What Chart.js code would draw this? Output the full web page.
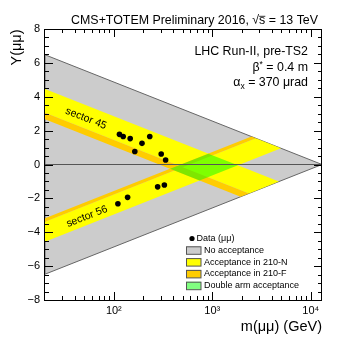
<!DOCTYPE html>
<html><head><meta charset="utf-8">
<script src="https://cdn.jsdelivr.net/npm/chart.js@4.4.1/dist/chart.umd.min.js"></script>
<style>html,body{margin:0;padding:0;background:#fff}#wrap{width:351px;height:346px}</style>
</head><body><div id="wrap"><canvas id="c" width="351" height="346"></canvas></div>
<script>
// ---- data ----
const sqrtS = 13000;                 // GeV
const massRange = [20, 13000];       // x axis range (GeV)
const yRange = [-8, 8];
// xi acceptance per sector: [210-F min, 210-N min, max]
const xiSector45 = [0.0222, 0.0329, 0.133];
const xiSector56 = [0.037, 0.0452, 0.147];
const dataMass = [114, 124.5, 146.6, 231.7, 193.2, 163.3, 302.7, 335.7, 278.6, 326, 138, 110];
const dataRapidity = [1.78, 1.65, 1.53, 1.65, 1.25, 0.77, 0.62, 0.27, -1.32, -1.21, -1.94, -2.32];
const yTicks = [-8, -6, -4, -2, 0, 2, 4, 6, 8];
const xMajorTicks = [100, 1000, 10000];
const xTickLabels = ['10\u00B2', '10\u00B3', '10\u2074'];
const legendLabels = ['Data (\u03BC\u03BC)', 'No acceptance', 'Acceptance in 210-N', 'Acceptance in 210-F', 'Double arm acceptance'];

// ---- colours ----
const GRAY = '#cccccc', YELLOW = '#ffff00', ORANGE = '#ffcc00', GREEN = 'rgba(0,255,0,0.5)';

// ---- geometry helpers (kinematics: xi1 = M/sqrtS e^Y, xi2 = M/sqrtS e^-Y) ----
function bandPoly(a, b, sign) {
  const m0 = massRange[0];
  const pts = [
    {x: m0, y: Math.log(b * sqrtS / m0)},
    {x: sqrtS * Math.sqrt(b), y: 0.5 * Math.log(b)},
    {x: sqrtS * Math.sqrt(a), y: 0.5 * Math.log(a)},
    {x: m0, y: Math.log(a * sqrtS / m0)}
  ].map(p => ({x: p.x, y: sign * p.y}));
  pts.push({...pts[0]});
  return pts;
}
function corner(x1, x2) { return {x: sqrtS * Math.sqrt(x1 * x2), y: 0.5 * Math.log(x1 / x2)}; }
const yEdge = Math.log(sqrtS / massRange[0]);
const triangle = [{x: massRange[0], y: yEdge}, {x: sqrtS, y: 0}, {x: massRange[0], y: -yEdge}, {x: massRange[0], y: yEdge}];
const doubleArm = [
  corner(xiSector45[0], xiSector56[0]), corner(xiSector45[2], xiSector56[0]),
  corner(xiSector45[2], xiSector56[2]), corner(xiSector45[0], xiSector56[2])
];
doubleArm.push({...doubleArm[0]});

function poly(data, color, order, border) {
  return {data, backgroundColor: color, borderColor: border || 'rgba(0,0,0,0)', borderWidth: border ? 1 : 0,
          fill: 'shape', pointRadius: 0, order, tension: 0};
}

const datasets = [
  poly(triangle, GRAY, 20, '#666666'),
  poly(bandPoly(xiSector45[1], xiSector45[2], 1), YELLOW, 19),
  poly(bandPoly(xiSector56[1], xiSector56[2], -1), YELLOW, 18),
  poly(bandPoly(xiSector45[0], xiSector45[1], 1), ORANGE, 17),
  poly(bandPoly(xiSector56[0], xiSector56[1], -1), ORANGE, 16),
  poly(doubleArm, GREEN, 15),
  {data: [{x: massRange[0], y: 0}, {x: massRange[1], y: 0}], borderColor: '#555555', borderWidth: 1, pointRadius: 0, fill: false, order: 5},
  {data: dataMass.map((m, i) => ({x: m, y: dataRapidity[i]})), showLine: false, pointRadius: 2.8,
   pointBackgroundColor: '#000', pointBorderColor: '#000', pointBorderWidth: 0, order: 1}
];

const FONT = "'Liberation Sans', Arial, Helvetica, sans-serif";
function font(sz) { return sz + 'px ' + FONT; }
function drawPieces(ctx, pieces, rightX, baseY) {
  let w = 0;
  pieces.forEach(p => { ctx.font = font(p.size); p.w = ctx.measureText(p.t).width; w += p.w; });
  let x = rightX - w;
  pieces.forEach(p => {
    ctx.font = font(p.size);
    ctx.fillText(p.t, x, baseY + (p.dy || 0));
    if (p.over) { ctx.beginPath(); ctx.moveTo(x, baseY - p.size * 0.62); ctx.lineTo(x + p.w, baseY - p.size * 0.62); ctx.lineWidth = 0.8; ctx.stroke(); }
    x += p.w;
  });
}

const decorPlugin = {
  id: 'decor',
  afterDraw(chart) {
    const ctx = chart.ctx;
    const xs = chart.scales.x, ys = chart.scales.y;
    const L = Math.round(xs.left), R = Math.round(xs.right), T = Math.round(ys.top), B = Math.round(ys.bottom);
    ctx.save();
    ctx.strokeStyle = '#000'; ctx.fillStyle = '#000'; ctx.lineWidth = 1;
    ctx.strokeRect(L - 0.5, T + 0.5, R - L, B - T);
    ctx.beginPath();
    for (let d = 10; d <= 10000; d *= 10) {
      for (let k = 1; k < 10; k++) {
        const v = k * d;
        if (v <= massRange[0] || v >= massRange[1]) continue;
        const px = Math.round(xs.getPixelForValue(v)) + 0.5;
        const len = k === 1 ? 8 : 4;
        ctx.moveTo(px, B); ctx.lineTo(px, B - len);
        ctx.moveTo(px, T); ctx.lineTo(px, T + len);
      }
    }
    for (let v = yRange[0] + 0.5; v < yRange[1]; v += 0.5) {
      const py = Math.round(ys.getPixelForValue(v)) + 0.5;
      const len = (Math.abs(v) % 2 === 0) ? 8 : 4;
      ctx.moveTo(L, py); ctx.lineTo(L + len, py);
      ctx.moveTo(R, py); ctx.lineTo(R - len, py);
    }
    ctx.stroke();

    // title
    ctx.textAlign = 'left'; ctx.textBaseline = 'alphabetic';
    drawPieces(ctx, [{t: 'CMS+TOTEM Preliminary 2016, ', size: 12.4}, {t: '\u221A', size: 12.4}, {t: 's', size: 12.4, over: true}, {t: ' = 13 TeV', size: 12.4}], 318, 24);
    // annotations
    drawPieces(ctx, [{t: 'LHC Run-II, pre-TS2', size: 12.4}], 308, 54.5);
    drawPieces(ctx, [{t: '\u03B2', size: 12.4}, {t: '*', size: 8.5, dy: -4}, {t: ' = 0.4 m', size: 12.4}], 308, 70.5);
    drawPieces(ctx, [{t: '\u03B1', size: 12.4}, {t: 'x', size: 8.5, dy: 3}, {t: ' = 370 \u03BCrad', size: 12.4}], 308, 86);

    // axis titles
    ctx.font = font(14.5);
    ctx.textAlign = 'right';
    ctx.fillText('m(\u03BC\u03BC) (GeV)', 322, 331);
    ctx.save();
    ctx.translate(21, 29.5); ctx.rotate(-Math.PI / 2);
    ctx.fillText('Y(\u03BC\u03BC)', 0, 0);
    ctx.restore();

    // sector labels
    ctx.font = font(10.5); ctx.textAlign = 'center'; ctx.textBaseline = 'middle';
    ctx.save(); ctx.translate(86, 118.5); ctx.rotate(21.5 * Math.PI / 180); ctx.fillText('sector 45', 0, 0); ctx.restore();
    ctx.save(); ctx.translate(87, 216.5); ctx.rotate(-21.5 * Math.PI / 180); ctx.fillText('sector 56', 0, 0); ctx.restore();

    // legend
    const rows = [238.5, 250.3, 262.1, 273.9, 285.7];
    const fills = [null, GRAY, YELLOW, ORANGE, 'rgb(128,255,128)'];
    ctx.font = font(9); ctx.textAlign = 'left'; ctx.textBaseline = 'middle';
    rows.forEach((y, i) => {
      if (i === 0) {
        ctx.beginPath(); ctx.arc(192, y, 2.6, 0, Math.PI * 2); ctx.fillStyle = '#000'; ctx.fill();
        ctx.fillText(legendLabels[i], 196.5, y);
      } else {
        ctx.fillStyle = fills[i]; ctx.fillRect(186, y - 4, 15, 8);
        ctx.strokeStyle = '#555'; ctx.lineWidth = 1; ctx.strokeRect(186.5, y - 3.5, 14.5, 7.5);
        ctx.fillStyle = '#000'; ctx.fillText(legendLabels[i], 204, y);
      }
    });
    ctx.restore();
  }
};

Chart.defaults.font.family = FONT;
Chart.defaults.color = '#000';
new Chart(document.getElementById('c'), {
  type: 'line',
  data: {datasets},
  options: {
    responsive: false, animation: false, devicePixelRatio: 1,
    layout: {padding: {left: 0, right: 29, top: 29, bottom: 0}},
    plugins: {legend: {display: false}, tooltip: {enabled: false}, title: {display: false}},
    scales: {
      x: {
        type: 'logarithmic', min: massRange[0], max: massRange[1],
        grid: {display: false, drawTicks: false}, border: {display: false},
        afterBuildTicks: s => { s.ticks = xMajorTicks.map(v => ({value: v})); },
        ticks: {autoSkip: false, maxRotation: 0, minRotation: 0, padding: 4, font: {size: 11},
                callback: (v, i) => xTickLabels[i]},
        afterFit: s => { s.height = 46; }
      },
      y: {
        type: 'linear', min: yRange[0], max: yRange[1],
        grid: {display: false, drawTicks: false}, border: {display: false},
        afterBuildTicks: s => { s.ticks = yTicks.map(v => ({value: v})); },
        ticks: {autoSkip: false, padding: 5, font: {size: 11},
                callback: v => v < 0 ? '\u2212' + Math.abs(v) : String(v)},
        afterFit: s => { s.width = 45; }
      }
    }
  },
  plugins: [decorPlugin]
});
</script>
</body></html>
